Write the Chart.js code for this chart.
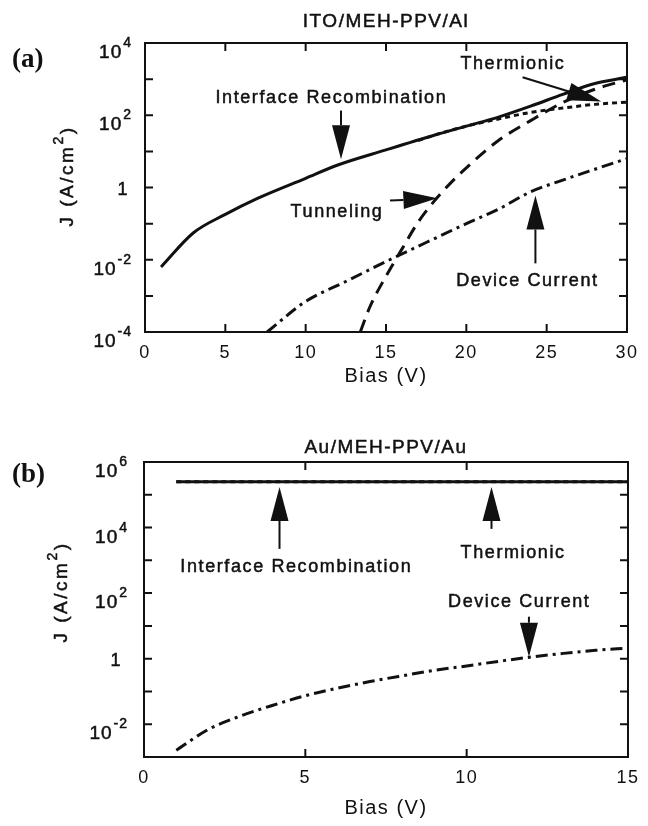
<!DOCTYPE html>
<html>
<head>
<meta charset="utf-8">
<script src="https://cdn.jsdelivr.net/npm/chart.js@4/dist/chart.umd.min.js"></script>
<style>
body{margin:0;background:#fff;width:648px;height:826px;position:relative;overflow:hidden}
.box{position:absolute;left:0;width:648px}
</style>
</head>
<body>
<div class="box" style="top:0;height:400px"><canvas id="ca"></canvas></div>
<div class="box" style="top:410px;height:416px"><canvas id="cb"></canvas></div>
<script>
// (a) ITO/MEH-PPV/Al  -- J in A/cm2 vs bias in V
var recBiasA = [1, 3, 5, 7, 10, 12, 15, 18, 20, 22, 24, 26, 28, 30];
var recJA = [6.3e-3, 0.055, 0.18, 0.5, 1.8, 4.2, 11, 28, 50, 89, 178, 380, 760, 1120];
var thermBiasA = [17, 18, 20, 22, 24, 26, 28, 30];
var thermJA = [20, 28, 50, 79, 120, 158, 200, 230];
var tunBiasA = [13.4, 14, 15, 16, 17, 18, 19, 20, 22, 24, 26, 28, 30];
var tunJA = [1e-4, 5e-4, 3.5e-3, 0.02, 0.11, 0.42, 1.3, 3.5, 20, 71, 224, 525, 955];
var devBiasA = [7.6, 10, 12.5, 15, 17.5, 20, 22, 24, 26, 28, 30];
var devJA = [1e-4, 7e-4, 2.5e-3, 8.9e-3, 0.03, 0.1, 0.25, 0.76, 1.6, 3.2, 6.3];

// (b) Au/MEH-PPV/Au
var recBiasB = [1, 15];
var recJB = [2.5e5, 2.5e5];
var thermBiasB = [1, 15];
var thermJB = [2.5e5, 2.5e5];
var devBiasB = [1, 2, 3, 4, 5, 6, 7, 8, 9, 10, 11, 12, 13, 14, 15];
var devJB = [1.6e-3, 7e-3, 0.018, 0.038, 0.074, 0.126, 0.2, 0.3, 0.44, 0.6, 0.83, 1.12, 1.45, 1.8, 2.1];

// axis ticks
var xTicksA = [0, 5, 10, 15, 20, 25, 30];
var yExpA = [-4, -3, -2, -1, 0, 1, 2, 3, 4];
var xTicksB = [0, 5, 10, 15];
var yExpB = [-3, -2, -1, 0, 1, 2, 3, 4, 5, 6];

// annotations: text at (bias, J), arrow from -> to in data units
var notesA = [
  {text: 'Interface Recombination', x: 11.6, y: 10 ** 2.49, from: [12.2, 10 ** 2.13], to: [12.2, 10 ** 0.78]},
  {text: 'Thermionic', x: 22.9, y: 10 ** 3.43, from: [23.5, 10 ** 3.05], to: [28.4, 10 ** 2.38]},
  {text: 'Tunneling', x: 11.95, y: 10 ** -0.69, from: [15.25, 10 ** -0.36], to: [18.2, 10 ** -0.3]},
  {text: 'Device Current', x: 23.8, y: 10 ** -2.58, from: [24.3, 10 ** -2.1], to: [24.3, 10 ** -0.22]}
];
var notesB = [
  {text: 'Interface Recombination', x: 4.72, y: 10 ** 2.8, from: [4.2, 10 ** 3.35], to: [4.2, 10 ** 5.24]},
  {text: 'Thermionic', x: 11.44, y: 10 ** 3.23, from: [10.77, 10 ** 3.96], to: [10.77, 10 ** 5.24]},
  {text: 'Device Current', x: 11.63, y: 10 ** 1.74, from: [11.93, 10 ** 1.28], to: [11.93, 10 ** 0.06]}
];

var INK = '#111';
var SANS = '"Liberation Sans", Arial, sans-serif';

function pts(xs, ys) {
  return xs.map(function (x, i) { return {x: x, y: ys[i]}; });
}

function line(xs, ys, dash) {
  return {
    data: pts(xs, ys),
    borderColor: INK,
    borderWidth: 3,
    borderDash: dash,
    pointRadius: 0,
    fill: false,
    cubicInterpolationMode: 'monotone'
  };
}

function arrow(ctx, x1, y1, x2, y2) {
  var a = Math.atan2(y2 - y1, x2 - x1), L = 34, W = 9;
  var bx = x2 - L * Math.cos(a), by = y2 - L * Math.sin(a);
  ctx.beginPath();
  ctx.moveTo(x1, y1);
  ctx.lineTo(bx, by);
  ctx.lineWidth = 2;
  ctx.stroke();
  ctx.beginPath();
  ctx.moveTo(x2, y2);
  ctx.lineTo(bx + W * Math.sin(a), by - W * Math.cos(a));
  ctx.lineTo(bx - W * Math.sin(a), by + W * Math.cos(a));
  ctx.closePath();
  ctx.fill();
}

// fill text with a thin outline so it reads as heavy as the scanned lettering
function inkText(ctx, s, x, y) {
  ctx.lineWidth = 0.5;
  ctx.fillText(s, x, y);
  ctx.strokeText(s, x, y);
}

var decor = {
  id: 'decor',
  beforeDraw: function (chart) {
    chart.ctx.letterSpacing = '1.5px';
  },
  afterDraw: function (chart) {
    var o = chart.options.plugins.decor;
    var ctx = chart.ctx, ca = chart.chartArea;
    var xs = chart.scales.x, ys = chart.scales.y;
    ctx.save();
    ctx.strokeStyle = INK;
    ctx.fillStyle = INK;
    // frame
    ctx.lineWidth = 2;
    ctx.strokeRect(ca.left, ca.top, ca.right - ca.left, ca.bottom - ca.top);
    // inward ticks
    ctx.beginPath();
    xs.ticks.forEach(function (t) {
      var px = xs.getPixelForValue(t.value);
      ctx.moveTo(px, ca.bottom); ctx.lineTo(px, ca.bottom - 8);
      ctx.moveTo(px, ca.top); ctx.lineTo(px, ca.top + 8);
    });
    ys.ticks.forEach(function (t) {
      var py = ys.getPixelForValue(t.value);
      ctx.moveTo(ca.left, py); ctx.lineTo(ca.left + 8, py);
      ctx.moveTo(ca.right, py); ctx.lineTo(ca.right - 8, py);
    });
    ctx.stroke();
    // y tick labels with exponents
    ctx.letterSpacing = '1px';
    ctx.textBaseline = 'alphabetic';
    ys.ticks.forEach(function (t) {
      var e = Math.round(Math.log10(t.value));
      if (e % 2 !== 0) return;
      var py = ys.getPixelForValue(t.value);
      if (e === 0) {
        ctx.font = '18px ' + SANS;
        ctx.textAlign = 'center';
        inkText(ctx, '1', ca.left - o.oneGap, py + 7);
        return;
      }
      ctx.font = '14px ' + SANS;
      ctx.textAlign = 'right';
      var right = ca.left - o.labGap;
      inkText(ctx, String(e), right, py + 4);
      var w = ctx.measureText(String(e)).width;
      ctx.font = '19px ' + SANS;
      inkText(ctx, '10', right - w - 1, py + 15);
    });
    // y title
    ctx.save();
    ctx.translate(o.yTitleX, o.yTitleY);
    ctx.rotate(-Math.PI / 2);
    ctx.letterSpacing = '2.5px';
    ctx.textAlign = 'left';
    ctx.font = '19px ' + SANS;
    var p1 = 'J (A/cm', w1 = ctx.measureText(p1).width;
    ctx.font = '14px ' + SANS;
    var w2 = ctx.measureText('2').width;
    ctx.font = '19px ' + SANS;
    var w3 = ctx.measureText(')').width;
    var x0 = -(w1 + w2 + w3) / 2;
    inkText(ctx, p1, x0, 7);
    ctx.font = '14px ' + SANS;
    inkText(ctx, '2', x0 + w1, -3);
    ctx.font = '19px ' + SANS;
    inkText(ctx, ')', x0 + w1 + w2, 7);
    ctx.restore();
    // panel title
    ctx.letterSpacing = '1.5px';
    ctx.font = '19px ' + SANS;
    ctx.textAlign = 'center';
    ctx.textBaseline = 'middle';
    inkText(ctx, o.title, (ca.left + ca.right) / 2, o.titleY);
    // panel tag
    ctx.letterSpacing = '0px';
    ctx.font = 'bold 27px "Liberation Serif", "Times New Roman", serif';
    ctx.textAlign = 'left';
    ctx.fillText(o.tag, 12, o.tagY);
    // annotations
    ctx.letterSpacing = '1.6px';
    ctx.font = '18px ' + SANS;
    ctx.textAlign = 'center';
    o.notes.forEach(function (n) {
      inkText(ctx, n.text, xs.getPixelForValue(n.x), ys.getPixelForValue(n.y));
      arrow(ctx,
        xs.getPixelForValue(n.from[0]), ys.getPixelForValue(n.from[1]),
        xs.getPixelForValue(n.to[0]), ys.getPixelForValue(n.to[1]));
    });
    ctx.restore();
  }
};

function makeChart(id, cfg) {
  new Chart(document.getElementById(id), {
    type: 'line',
    data: {datasets: cfg.datasets},
    options: {
      responsive: true,
      maintainAspectRatio: false,
      animation: false,
      layout: {padding: cfg.pad},
      plugins: {
        legend: {display: false},
        tooltip: {enabled: false},
        decor: cfg.decor
      },
      scales: {
        x: {
          type: 'linear',
          min: cfg.xMin, max: cfg.xMax,
          afterBuildTicks: function (s) { s.ticks = cfg.xTicks.map(function (v) { return {value: v}; }); },
          afterFit: function (s) { s.height = cfg.xH; },
          grid: {display: false, drawTicks: false},
          border: {display: false},
          ticks: {color: INK, padding: 10, maxRotation: 0, font: {family: SANS, size: 18}},
          title: {display: true, text: 'Bias (V)', color: INK, font: {family: SANS, size: 20}, padding: {top: 0, bottom: 4}}
        },
        y: {
          type: 'logarithmic',
          min: cfg.yMin, max: cfg.yMax,
          afterBuildTicks: function (s) { s.ticks = cfg.yExp.map(function (e) { return {value: Math.pow(10, e)}; }); },
          afterFit: function (s) { s.width = cfg.yW; },
          grid: {display: false, drawTicks: false},
          border: {display: false},
          ticks: {display: false}
        }
      }
    },
    plugins: [decor]
  });
}

makeChart('ca', {
  datasets: [
    line(recBiasA, recJA, []),
    line(thermBiasA, thermJA, [5, 4]),
    line(tunBiasA, tunJA, [13, 8]),
    line(devBiasA, devJA, [12, 5, 3, 5])
  ],
  pad: {left: 0, right: 21, top: 43, bottom: 8},
  xMin: 0, xMax: 30, xTicks: xTicksA, xH: 60,
  yMin: 1e-4, yMax: 1e4, yExp: yExpA, yW: 145,
  decor: {title: 'ITO/MEH-PPV/Al', titleY: 22, tag: '(a)', tagY: 60,
    notes: notesA, labGap: 13, oneGap: 22, yTitleX: 66, yTitleY: 176}
});

makeChart('cb', {
  datasets: [
    line(recBiasB, recJB, []),
    line(thermBiasB, thermJB, [5, 4]),
    line(devBiasB, devJB, [12, 5, 3, 5])
  ],
  pad: {left: 0, right: 15, top: 52, bottom: 2},
  xMin: 0, xMax: 15, xTicks: xTicksB, xH: 67,
  yMin: 1e-3, yMax: 1e6, yExp: yExpB, yW: 144,
  decor: {title: 'Au/MEH-PPV/Au', titleY: 38, tag: '(b)', tagY: 65,
    notes: notesB, labGap: 16, oneGap: 28, yTitleX: 60, yTitleY: 182}
});
</script>
</body>
</html>
